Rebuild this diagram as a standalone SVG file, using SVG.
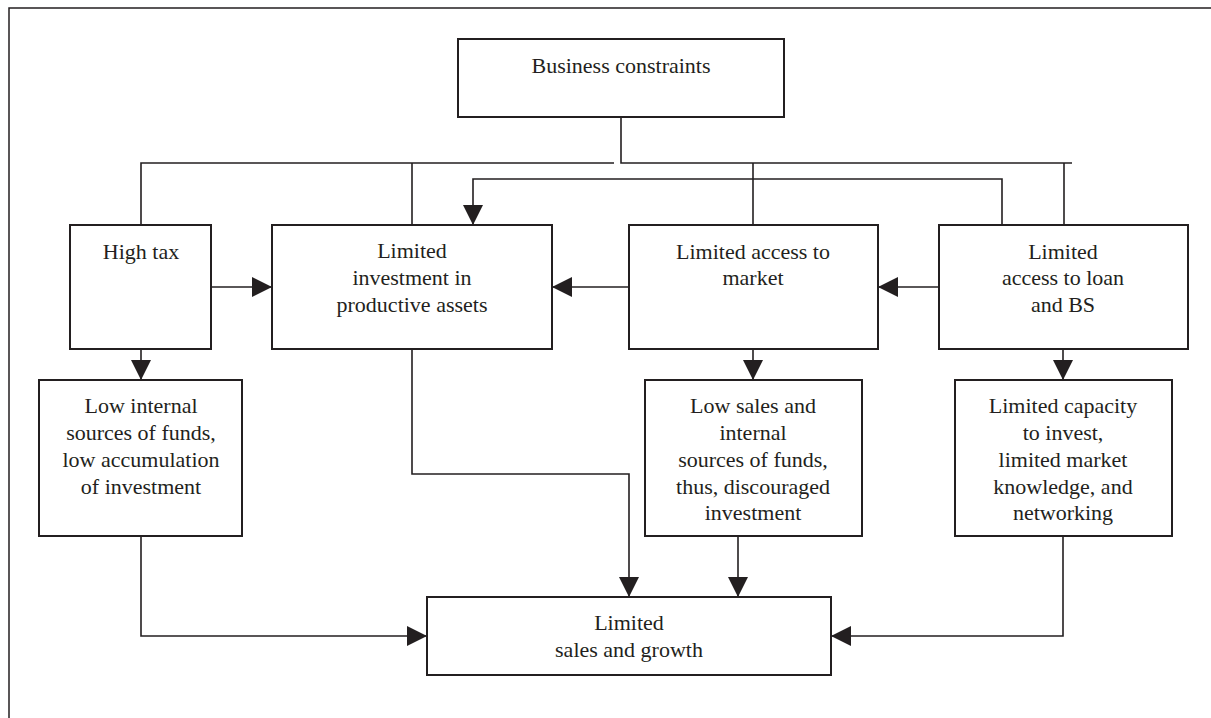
<svg xmlns="http://www.w3.org/2000/svg" width="1211" height="718" viewBox="0 0 1211 718">
<style>
.box{fill:#fff;stroke:#231f20;stroke-width:2}
.lbl{font-family:"Liberation Serif","Times New Roman",serif;font-size:22px;fill:#231f20;text-anchor:middle}
.con{fill:none;stroke:#231f20;stroke-width:1.6}
.arr{marker-end:url(#ah)}
</style>
<defs>
<marker id="ah" markerUnits="userSpaceOnUse" markerWidth="20" markerHeight="20" refX="20" refY="10" orient="auto" viewBox="0 0 20 20">
<path d="M0,0 L20,10 L0,20 z" fill="#231f20"/>
</marker>
</defs>
<rect width="1211" height="718" fill="#fff"/>
<path d="M9,718 V8 H1211" fill="none" stroke="#231f20" stroke-width="1.5"/>
<g id="connectors">
<path class="con" d="M621,117 V163 H1072"/>
<path class="con" d="M141,225 V163 H614"/>
<path class="con" d="M412,163 V225"/>
<path class="con" d="M753,163 V225"/>
<path class="con" d="M1064,163 V225"/>
<path class="con arr" d="M1002,225 V179 H473 V225" stroke-width="2.2"/>
<path class="con arr" d="M211,287 H272"/>
<path class="con arr" d="M629,287 H552"/>
<path class="con arr" d="M939,287 H878"/>
<path class="con arr" d="M141,349 V380"/>
<path class="con arr" d="M753,349 V380"/>
<path class="con arr" d="M1063,349 V380"/>
<path class="con arr" d="M412,349 V474 H629 V597"/>
<path class="con arr" d="M738,536 V597"/>
<path class="con arr" d="M141,536 V636 H427"/>
<path class="con arr" d="M1063,536 V636 H831"/>
</g>
<g id="business-constraints">
<rect class="box" x="458" y="39" width="326" height="78"/>
<text class="lbl" x="621" y="73">Business constraints</text>
</g>
<g id="high-tax">
<rect class="box" x="70" y="225" width="141" height="124"/>
<text class="lbl" x="141" y="259">High tax</text>
</g>
<g id="limited-investment">
<rect class="box" x="272" y="225" width="280" height="124"/>
<text class="lbl" x="412" y="258">Limited</text>
<text class="lbl" x="412" y="285">investment in</text>
<text class="lbl" x="412" y="312">productive assets</text>
</g>
<g id="limited-market">
<rect class="box" x="629" y="225" width="249" height="124"/>
<text class="lbl" x="753" y="259">Limited access to</text>
<text class="lbl" x="753" y="285">market</text>
</g>
<g id="limited-loan">
<rect class="box" x="939" y="225" width="249" height="124"/>
<text class="lbl" x="1063" y="259">Limited</text>
<text class="lbl" x="1063" y="285">access to loan</text>
<text class="lbl" x="1063" y="312">and BS</text>
</g>
<g id="low-internal">
<rect class="box" x="39" y="380" width="203" height="156"/>
<text class="lbl" x="141" y="413">Low internal</text>
<text class="lbl" x="141" y="440">sources of funds,</text>
<text class="lbl" x="141" y="467">low accumulation</text>
<text class="lbl" x="141" y="494">of investment</text>
</g>
<g id="low-sales">
<rect class="box" x="645" y="380" width="217" height="156"/>
<text class="lbl" x="753" y="413">Low sales and</text>
<text class="lbl" x="753" y="440">internal</text>
<text class="lbl" x="753" y="467">sources of funds,</text>
<text class="lbl" x="753" y="494">thus, discouraged</text>
<text class="lbl" x="753" y="520">investment</text>
</g>
<g id="limited-capacity">
<rect class="box" x="955" y="380" width="217" height="156"/>
<text class="lbl" x="1063" y="413">Limited capacity</text>
<text class="lbl" x="1063" y="440">to invest,</text>
<text class="lbl" x="1063" y="467">limited market</text>
<text class="lbl" x="1063" y="494">knowledge, and</text>
<text class="lbl" x="1063" y="520">networking</text>
</g>
<g id="limited-sales-growth">
<rect class="box" x="427" y="597" width="404" height="78"/>
<text class="lbl" x="629" y="630">Limited</text>
<text class="lbl" x="629" y="657">sales and growth</text>
</g>
</svg>
